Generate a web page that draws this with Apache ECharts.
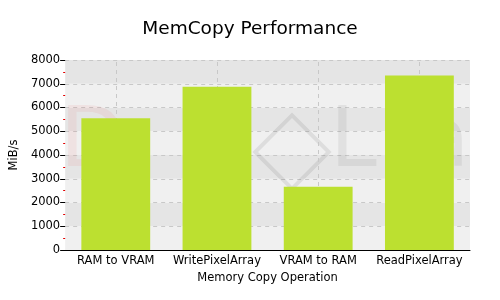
<!DOCTYPE html>
<html><head><meta charset="utf-8">
<script src="https://cdn.jsdelivr.net/npm/echarts@6/dist/echarts.min.js"></script>
<style>html,body{margin:0;padding:0;background:#fff}#c{width:500px;height:300px}</style>
</head><body><div id="c"></div>
<script>
var categories = ["RAM to VRAM", "WritePixelArray", "VRAM to RAM", "ReadPixelArray"];
var values = [5550, 6870, 2660, 7350];
var chartTitle = "MemCopy Performance";
var xName = "Memory Copy Operation";
var yName = "MiB/s";

var chart = echarts.init(document.getElementById('c'), null, {renderer: 'canvas'});
var font = "DejaVu Sans, Verdana, sans-serif";
chart.setOption({
  animation: false,
  backgroundColor: '#ffffff',
  title: {text: chartTitle, left: 'center', top: 15,
    textStyle: {fontFamily: font, fontSize: 18.5, fontWeight: 'normal', color: '#000'}},
  grid: {left: 60, right: 30, top: 60, bottom: 50, containLabel: false},
  graphic: [
    {type: 'text', x: 330, y: 102, z: 1, silent: true,
     style: {text: 'L', font: '84px ' + font, fill: 'rgba(0,0,0,0.06)'}},
    {type: 'text', x: 418, y: 102, z: 1, silent: true,
     style: {text: 'a', font: '84px ' + font, fill: 'rgba(0,0,0,0.06)'}},
    {type: 'rect', x: 292, y: 152, rotation: Math.PI / 4, z: 1, silent: true,
     shape: {x: -26, y: -26, width: 52, height: 52},
     style: {fill: 'none', stroke: 'rgba(0,0,0,0.08)', lineWidth: 4}},
    {type: 'text', x: 60, y: 102, z: 1, silent: true,
     style: {text: 'D', font: '84px ' + font, fill: 'rgba(230,60,60,0.08)'}}
  ],
  xAxis: {
    type: 'category', data: categories,
    name: xName, nameLocation: 'middle', nameGap: 20,
    nameTextStyle: {fontFamily: font, fontSize: 11.5, color: '#000'},
    axisLine: {lineStyle: {color: '#000', width: 1}},
    axisTick: {show: true, alignWithLabel: true, length: 3, inside: true, lineStyle: {color: '#000'}},
    axisLabel: {fontFamily: font, fontSize: 11.5, color: '#000', margin: 5, interval: 0},
    splitLine: {show: false}
  },
  yAxis: {
    type: 'value', min: 0, max: 8000, interval: 1000,
    name: yName, nameLocation: 'middle', nameGap: 36,
    nameTextStyle: {fontFamily: font, fontSize: 11.5, color: '#000'},
    axisLine: {show: false},
    axisTick: {show: true, length: 5, lineStyle: {color: '#000'}},
    minorTick: {show: true, splitNumber: 2, length: 2, lineStyle: {color: '#e00000'}},
    axisLabel: {fontFamily: font, fontSize: 11.5, color: '#000', margin: 5,
      formatter: function (v) { return String(v); }},
    splitLine: {show: true, lineStyle: {color: '#c8c8c8', type: [4, 4]}},
    splitArea: {show: true, areaStyle: {color: ['#f0f0f0', '#e5e5e5']}}
  },
  series: [
    {
      type: 'line', data: [], z: 1, silent: true,
      markLine: {
        z: 1, silent: true, symbol: ['none', 'none'], label: {show: false},
        lineStyle: {color: '#c8c8c8', type: [4, 4], width: 1},
        data: categories.map(function (c) { return {xAxis: c}; })
      }
    },
    {
      type: 'bar', data: values, barWidth: '68%', z: 3,
      itemStyle: {color: '#bce030'}
    }
  ]
});
</script></body></html>
